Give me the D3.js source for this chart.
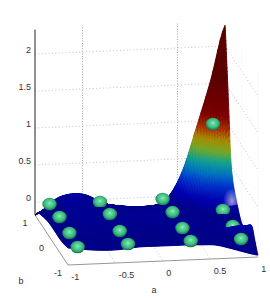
<!DOCTYPE html>
<html>
<head>
<meta charset="utf-8">
<script src="https://d3js.org/d3.v7.min.js"></script>
<style>
  html, body { margin: 0; padding: 0; background: #fff; }
  svg { display: block; }
  text { font-family: "Liberation Sans", sans-serif; font-size: 9px; fill: #333; }
</style>
</head>
<body>
<script>
const width = 270;
const height = 298;

// surface heights, one row per b, one column per a
const aGrid = [-1, -0.75, -0.5, -0.25, 0, 0.25, 0.4, 0.55, 0.7, 0.85, 1];
const bGrid = [1, 0.9, 0.8, 0.65, 0.5, 0.25, 0, -0.25, -0.5, -0.65, -0.8, -1];
const zGrid = [
  [-0.176, 0.05, 0.08, -0.07, -0.136, -0.12, -0.01, 0.33, 0.92, 1.55, 2.28],
  [-0.12, 0.06, 0.07, -0.04, -0.1, -0.08, 0.02, 0.27, 0.72, 1.2, 1.84],
  [-0.08, 0.06, 0.06, -0.01, -0.05, -0.04, 0.05, 0.2, 0.5, 0.85, 1.35],
  [-0.05, 0.05, 0.05, 0.02, -0.01, 0, 0.05, 0.12, 0.28, 0.45, 0.6],
  [-0.03, 0.05, 0.05, 0.04, 0.03, 0.03, 0.04, 0.07, 0.14, 0.22, 0.3],
  [0, 0.05, 0.05, 0.05, 0.05, 0.05, 0.04, 0.04, 0.06, 0.08, 0.1],
  [0.01, 0.05, 0.05, 0.05, 0.05, 0.05, 0.04, 0.04, 0.03, 0.02, -0.05],
  [0.01, 0.04, 0.04, 0.04, 0.04, 0.04, 0.04, 0.04, 0.04, 0.04, -0.04],
  [0.01, 0.03, 0.03, 0.03, 0.03, 0.03, 0.03, 0.04, 0.05, 0.08, 0.08],
  [0.02, 0.02, 0.02, 0.03, 0.03, 0.03, 0.03, 0.03, 0.04, 0.08, 0.11],
  [0.03, 0.02, 0.01, 0.03, 0.03, 0.03, 0.03, 0.02, 0.01, 0.02, -0.01],
  [0.054, 0.013, 0, 0.027, 0.027, 0.027, 0.02, 0.01, -0.04, -0.1, -0.15]
];

// the 16 green markers
const pointA = [-0.89, -0.36, 0.3, 0.83, -0.89, -0.36, 0.3, 0.83, -0.89, -0.36, 0.3, 0.83, -0.89, -0.36, 0.3, 0.83];
const pointB = [0.75, 0.75, 0.75, 0.75, 0.15, 0.15, 0.15, 0.15, -0.45, -0.45, -0.45, -0.45, -0.95, -0.95, -0.95, -0.95];
const pointZ = [0.05, 0.05, 0.054, 1.04, 0.078, 0.09, 0.08, 0.08, 0.065, 0.063, 0.067, 0.066, 0.044, 0.057, 0.062, 0.059];

const aTicks = [-1, -0.5, 0, 0.5, 1];
const bTicks = [-1, 0, 1];
const zTicks = [0, 0.5, 1, 1.5, 2];
const aWallGrid = [-0.5, 0.5];
const colorZ = [0.03, 0.12, 0.26, 0.39, 0.53, 0.66, 0.8, 0.93, 1.11, 1.6];
const colorHex = ['#000088', '#0000b0', '#0030c8', '#0070c0', '#10a090', '#70a828', '#a88a00', '#a83000', '#780000', '#5a0000'];

// oblique projection of the plot box, built from plain linear scales
const aToX = d3.scaleLinear().domain([-1, 1]).range([0, 190]);
const aToY = d3.scaleLinear().domain([-1, 1]).range([0, -8]);
const bToX = d3.scaleLinear().domain([1, -1]).range([0, 33]);
const bToY = d3.scaleLinear().domain([1, -1]).range([0, 50]);
const zToY = d3.scaleLinear().domain([-0.176, 2.4]).range([0, -190.6]);
const px = (a, b) => 35 + aToX(a) + bToX(b);
const py = (a, b, z) => 215 + aToY(a) + bToY(b) + zToY(z);

const color = d3.scaleLinear().domain(colorZ).range(colorHex).clamp(true);

const svg = d3.select('body').append('svg')
  .attr('width', width)
  .attr('height', height);

const defs = svg.append('defs');
const ball = defs.append('radialGradient').attr('id', 'ball')
  .attr('cx', '50%').attr('cy', '45%').attr('r', '58%')
  .attr('fx', '50%').attr('fy', '42%');
ball.append('stop').attr('offset', '0%').attr('stop-color', '#c4f5da');
ball.append('stop').attr('offset', '14%').attr('stop-color', '#6cdca2');
ball.append('stop').attr('offset', '60%').attr('stop-color', '#3cbc80');
ball.append('stop').attr('offset', '100%').attr('stop-color', '#0f6048');
const glow = defs.append('radialGradient').attr('id', 'glow');
glow.append('stop').attr('offset', '0%').attr('stop-color', '#fff').attr('stop-opacity', 0.6);
glow.append('stop').attr('offset', '100%').attr('stop-color', '#fff').attr('stop-opacity', 0);

// walls and floor
const walls = svg.append('g').attr('fill', 'none');
function wallLine(a1, b1, z1, a2, b2, z2, stroke, dash, sw) {
  walls.append('line')
    .attr('x1', px(a1, b1)).attr('y1', py(a1, b1, z1))
    .attr('x2', px(a2, b2)).attr('y2', py(a2, b2, z2))
    .attr('stroke', stroke)
    .attr('stroke-width', sw)
    .attr('stroke-dasharray', dash);
}
const dots = '1,2.4';
zTicks.forEach(z => {
  wallLine(-1, 1, z, 1, 1, z, '#b4b4b4', dots, 0.8);
  wallLine(1, 1, z, 1, -1, z, '#b4b4b4', dots, 0.8);
});
aWallGrid.forEach(a => {
  wallLine(a, 1, -0.176, a, 1, 2.33, '#999', '1,1.6', 0.9);
});
aTicks.slice(1, 4).forEach(a => {
  wallLine(a, 1, -0.176, a, -1, -0.176, '#b4b4b4', dots, 0.8);
});
wallLine(1, 0, -0.176, 1, 0, 2.33, '#eee', '1,1.5', 0.8);
wallLine(1, -1, -0.176, 1, -1, 2.33, '#eee', '1,1.5', 0.8);
wallLine(1, 1, -0.176, 1, -1, -0.176, '#b0b0b0', dots, 0.8);
wallLine(-1, 1, -0.176, -1, -1, -0.176, '#8a8a8a', null, 0.9);
wallLine(-1, -1, -0.176, 1, -1, -0.176, '#8a8a8a', null, 0.9);
wallLine(-1, 1, -0.176, -1, 1, 2.33, '#222', null, 1);

// Catmull-Rom between grid entries so the sheet stays smooth
function cr(p0, p1, p2, p3, t) {
  return 0.5 * (2 * p1 + (p2 - p0) * t + (2 * p0 - 5 * p1 + 4 * p2 - p3) * t * t + (3 * p1 - p0 - 3 * p2 + p3) * t * t * t);
}
const clampI = (i, n) => Math.max(0, Math.min(n - 1, i));
function heightAt(u, v) {
  const i = Math.min(Math.floor(u), aGrid.length - 2);
  const j = Math.min(Math.floor(v), bGrid.length - 2);
  const across = k => {
    const row = zGrid[clampI(j + k, bGrid.length)];
    return cr(row[clampI(i - 1, aGrid.length)], row[i], row[i + 1], row[clampI(i + 2, aGrid.length)], u - i);
  };
  return cr(across(-1), across(0), across(1), across(2), v - j);
}
const aAt = d3.scaleLinear().domain(aGrid.map((d, i) => i)).range(aGrid);
const bAt = d3.scaleLinear().domain(bGrid.map((d, i) => i)).range(bGrid);

const subU = 6;
const subV = 10;
const surface = svg.append('g');
const points = pointA.map((a, i) => ({ a, b: pointB[i], z: pointZ[i] }));

function addBall(p) {
  surface.append('ellipse')
    .attr('cx', px(p.a, p.b))
    .attr('cy', py(p.a, p.b, p.z))
    .attr('rx', 7.2)
    .attr('ry', 6.3)
    .attr('fill', 'url(#ball)');
}

// painter's order, far row first, markers dropped in a little past their depth
// (the a = 0.83 column goes in earlier, the ridge by the right edge hides it)
const placed = new Set();
let glowDone = false;
for (let v = 0; v < (bGrid.length - 1) * subV; v++) {
  const v0 = v / subV;
  const v1 = (v + 1) / subV;
  points.forEach((p, i) => {
    const slack = p.a > 0.8 ? 0.03 : 0.2;
    if (!placed.has(i) && bAt(v0) <= p.b - slack) {
      placed.add(i);
      addBall(p);
    }
  });
  for (let u = (aGrid.length - 1) * subU - 1; u >= 0; u--) {
    const u0 = u / subU;
    const u1 = (u + 1) / subU;
    const corners = [[u0, v0], [u1, v0], [u1, v1], [u0, v1]];
    const pts = corners.map(c => [px(aAt(c[0]), bAt(c[1])), py(aAt(c[0]), bAt(c[1]), heightAt(c[0], c[1]))]);
    const mean = d3.mean(corners, c => heightAt(c[0], c[1]));
    surface.append('path')
      .attr('d', 'M' + pts.join('L') + 'Z')
      .attr('fill', color(mean))
      .attr('stroke', color(mean))
      .attr('stroke-width', 0.9)
      .attr('stroke-linejoin', 'round');
  }
  if (!glowDone && bAt(v1) <= 0.25) {
    glowDone = true;
    surface.append('ellipse')
      .attr('cx', 232).attr('cy', 201)
      .attr('rx', 9).attr('ry', 13)
      .attr('fill', 'url(#glow)');
  }
}
points.forEach((p, i) => { if (!placed.has(i)) addBall(p); });

// tick labels, placed from the same projection
const labels = svg.append('g');
zTicks.forEach(z => {
  labels.append('text')
    .attr('x', px(-1, 1) - 4)
    .attr('y', py(-1, 1, z) - 1)
    .attr('text-anchor', 'end')
    .text(z);
});
bTicks.forEach(b => {
  labels.append('text')
    .attr('x', px(-1, b) - 10)
    .attr('y', py(-1, b, -0.176) + 10.5)
    .attr('text-anchor', 'middle')
    .text(b);
});
aTicks.forEach(a => {
  labels.append('text')
    .attr('x', px(a, -1) + 3.3)
    .attr('y', py(a, -1, -0.176) + 14.5)
    .text(a);
});
labels.append('text').attr('x', 21).attr('y', 284).attr('text-anchor', 'middle').text('b');
labels.append('text').attr('x', 154).attr('y', 293).attr('text-anchor', 'middle').text('a');
</script>
</body>
</html>
